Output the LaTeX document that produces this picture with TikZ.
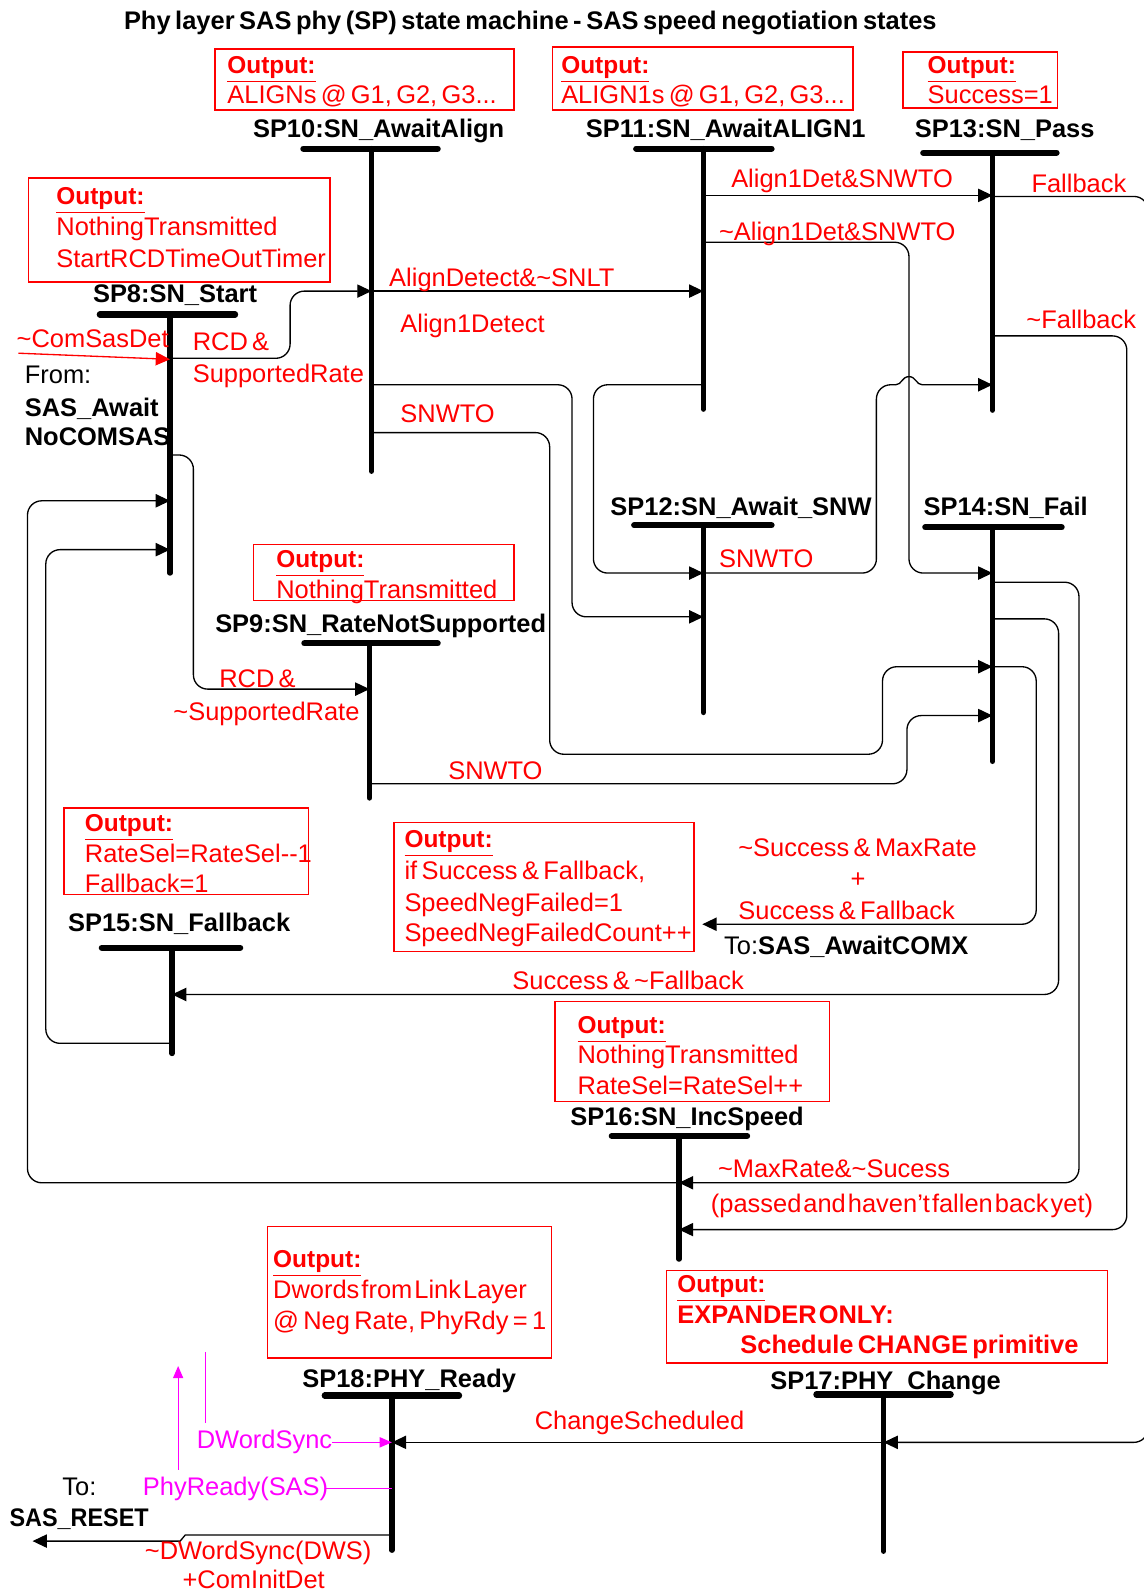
\documentclass[tikz,border=0pt]{standalone}
\usepackage{fontspec}
\setmainfont{Liberation Sans}
\usetikzlibrary{arrows.meta}
\definecolor{rd}{RGB}{255,0,0}
\definecolor{mg}{RGB}{255,0,255}
\newcommand{\lfs}{\fontsize{12.5}{14}\selectfont\spaceskip=0.17em plus 0.05em\relax}
\newcommand{\tightsp}{\spaceskip=0.08em plus 0.02em\relax}
\tikzset{
  conn/.style={draw=black, line width=0.65pt, rounded corners=7pt},
  arr/.style={-{Triangle[length=7pt,width=6.5pt]}},
  marr/.style={-{Triangle[length=6pt,width=5pt]}},
  mconn/.style={draw=mg, line width=0.6pt},
  txt/.style={font=\lfs, inner sep=0pt, anchor=west, text height=9pt, text depth=0pt},
  rtxt/.style={txt, text=rd},
  mtxt/.style={txt, text=mg},
  ktxt/.style={txt, text=black},
  kbtxt/.style={txt, text=black, font=\lfs\bfseries},
  rbtxt/.style={txt, text=rd, font=\lfs\bfseries},
  otxt/.style={txt, text=rd, font=\fontsize{12}{14}\selectfont\bfseries},
  stlabel/.style={font=\lfs\bfseries, inner sep=0pt, anchor=center, text height=9pt, text depth=0pt},
  obox/.style={draw=rd, line width=0.75pt},
  statebar/.style={line width=3pt, line cap=round},
  vline/.style={line width=2.6pt, line cap=round}
}
\begin{document}
\begin{tikzpicture}[x=0.5pt,y=-0.5pt]
\fill[white] (0,0) rectangle (1123,1566);
\useasboundingbox (0,0) rectangle (1123,1566);

% title
\node[stlabel] (title) at (521,20) {\spaceskip=0.18em\relax Phy layer SAS phy (SP) state machine - SAS speed negotiation states};

% ---------- output boxes ----------
\draw[obox] (211,48) rectangle (505,108);
\node[otxt] (o10a) at (223,63) {\underline{Output:}};
\node[rtxt] (o10b) at (223,93) {ALIGNs @ G1, G2, G3...};

\draw[obox] (543,46) rectangle (838,108);
\node[otxt] (o11a) at (551,63) {\underline{Output:}};
\node[rtxt] (o11b) at (551,93) {ALIGN1s @ G1, G2, G3...};

\draw[obox] (887,51) rectangle (1039,106);
\node[otxt] (o13a) at (911,63) {\underline{Output:}};
\node[rtxt] (o13b) at (911,93) {Success=1};

\draw[obox] (28,175) rectangle (324,277);
\node[otxt] (o8a) at (55,192) {\underline{Output:}};
\node[rtxt] (o8b) at (55,222) {NothingTransmitted};
\node[rtxt] (o8c) at (55,254) {StartRCDTimeOutTimer};

\draw[obox] (249,535) rectangle (505,590);
\node[otxt] (o9a) at (271,549) {\underline{Output:}};
\node[rtxt] (o9b) at (271,579) {NothingTransmitted};

\draw[obox] (63,794) rectangle (303,879);
\node[otxt] (o15a) at (83,808) {\underline{Output:}};
\node[rtxt] (o15b) at (83,838) {RateSel=RateSel-{}-1};
\node[rtxt] (o15c) at (83,868) {Fallback=1};

\draw[obox] (387,808) rectangle (682,935);
\node[otxt] (ofa) at (397,824) {\underline{Output:}};
\node[rtxt] (ofb) at (397,855) {if Success \& Fallback,};
\node[rtxt] (ofc) at (397,886) {SpeedNegFailed=1};
\node[rtxt] (ofd) at (397,916) {SpeedNegFailedCount++};

\draw[obox] (545,984) rectangle (815,1082);
\node[otxt] (o16a) at (567,1006) {\underline{Output:}};
\node[rtxt] (o16b) at (567,1036) {NothingTransmitted};
\node[rtxt] (o16c) at (567,1066) {RateSel=RateSel++};

\draw[obox] (263,1205) rectangle (542,1334);
\node[otxt] (o18a) at (268,1236) {\underline{Output:}};
\node[rtxt] (o18b) at (268,1267) {\tightsp Dwords from Link Layer};
\node[rtxt] (o18c) at (268,1297) {@ Neg Rate, PhyRdy = 1};

\draw[obox] (655,1248) rectangle (1088,1339);
\node[otxt] (o17a) at (665,1261) {\underline{Output:}};
\node[rbtxt] (o17b) at (665,1291) {\tightsp EXPANDER ONLY:};
\node[rbtxt] (o17c) at (727,1321) {Schedule CHANGE primitive};

% ---------- states ----------
\coordinate (s8) at (167,309);
\coordinate (s9) at (363,632);
\coordinate (s10) at (365,146);
\coordinate (s11) at (691,146);
\coordinate (s12) at (691,516);
\coordinate (s13) at (975,150);
\coordinate (s14) at (975,518);
\coordinate (s15) at (169,931);
\coordinate (s16) at (667,1116);
\coordinate (s17) at (868,1370);
\coordinate (s18) at (385,1371);

\draw[vline] (s8) -- (167,563);
\draw[vline] (s9) -- (363,784);
\draw[vline] (s10) -- (365,463);
\draw[vline] (s11) -- (691,402);
\draw[vline] (s12) -- (691,700);
\draw[vline] (s13) -- (975,403);
\draw[vline] (s14) -- (975,748);
\draw[vline] (s15) -- (169,1035);
\draw[vline] (s16) -- (667,1237);
\draw[vline] (s17) -- (868,1524);
\draw[vline] (s18) -- (385,1523);

\draw[statebar] (98,309) -- (231,309);
\draw[statebar] (299,632) -- (430,632);
\draw[statebar] (298,146) -- (430,146);
\draw[statebar] (625,146) -- (758,146);
\draw[statebar] (907,150) -- (1038,150);
\draw[statebar] (623,516) -- (758,516);
\draw[statebar] (909,518) -- (1043,518);
\draw[statebar] (100,931) -- (236,931);
\draw[statebar] (601,1116) -- (734,1116);
\draw[statebar] (802,1370) -- (934,1370);
\draw[statebar] (319,1371) -- (451,1371);

\node[stlabel] (n8) at (172,288) {SP8:SN\_Start};
\node[stlabel] (n9) at (374,612) {SP9:SN\_RateNotSupported};
\node[stlabel] (n10) at (372,126) {SP10:SN\_AwaitAlign};
\node[stlabel] (n11) at (713,126) {SP11:SN\_AwaitALIGN1};
\node[stlabel] (n13) at (987,126) {SP13:SN\_Pass};
\node[stlabel] (n12) at (728,497) {SP12:SN\_Await\_SNW};
\node[stlabel] (n14) at (988,497) {SP14:SN\_Fail};
\node[stlabel] (n15) at (176,906) {SP15:SN\_Fallback};
\node[stlabel] (n16) at (675,1097) {SP16:SN\_IncSpeed};
\node[stlabel] (n18) at (402,1354) {SP18:PHY\_Ready};
\node[stlabel] (n17) at (870,1356) {SP17:PHY\_Change};

% ---------- entry from SAS_AwaitNoCOMSAS ----------
\coordinate (frm) at (18,347);
\draw[conn, draw=rd, color=rd, arr] (frm) -- (s8 |- 0,353);
\node[rtxt] (lcom) at (16,332) {\textasciitilde ComSasDet};
\node[ktxt] (lfrom) at (24,368) {From:};
\node[kbtxt] (lsas1) at (24,400) {SAS\_Await};
\node[kbtxt] (lsas2) at (24,429) {NoCOMSAS};

% ---------- connectors ----------
% SP8 -> SP10
\draw[conn, arr] (s8 |- 0,352) -- (285,352) -- (285,286) -- (s10 |- 0,286);
\node[rtxt] (l1a) at (189,335) {RCD \&};
\node[rtxt] (l1b) at (189,367) {SupportedRate};
% SP10 -> SP11
\draw[conn, arr] (s10 |- 0,286) -- (s11 |- 0,286);
\node[rtxt] (l2) at (382,272) {AlignDetect\&\textasciitilde SNLT};
% SP10 -> SP12
\draw[conn, arr] (s10 |- 0,378) -- (562,378) -- (562,606) -- (s12 |- 0,606);
\node[rtxt] (l3) at (393,318) {Align1Detect};
% SP10 -> SP14
\draw[conn, arr] (s10 |- 0,425) -- (540,425) -- (540,741) -- (867,741) -- (867,655) -- (s14 |- 0,655);
\node[rtxt] (l4) at (393,406) {SNWTO};
% SP11 -> SP13
\draw[conn, arr] (s11 |- 0,192) -- (s13 |- 0,192);
\node[rtxt] (l5) at (718,175) {Align1Det\&SNWTO};
% SP11 -> SP14
\draw[conn, arr] (s11 |- 0,238) -- (893,238) -- (893,563) -- (s14 |- 0,563);
\node[rtxt] (l6) at (706,227) {\textasciitilde Align1Det\&SNWTO};
% SP11 -> SP12
\draw[conn, arr] (s11 |- 0,378) -- (583,378) -- (583,563) -- (s12 |- 0,563);
% SP12 -> SP13 (with bridge over the SP11->SP14 line)
\coordinate (hump) at (880,378);
\draw[conn] (s12 |- 0,563) -- (861,563) -- (861,378) -- (hump);
\draw[conn, sharp corners, arr] (hump) .. controls (886,378) and (886,370) .. (893,370)
  .. controls (900,370) and (900,378) .. (906,378) -- (s13 |- 0,378);
\node[rtxt] (l7) at (706,549) {SNWTO};
% SP13 Fallback -> SP17
\draw[conn, arr] (s13 |- 0,193) -- (1128,193) -- (1128,1417) -- (s17 |- 0,1417);
\node[rtxt] (l8) at (1013,180) {Fallback};
% SP13 ~Fallback -> SP16
\draw[conn, arr] (s13 |- 0,330) -- (1107,330) -- (1107,1208) -- (s16 |- 0,1208);
\node[rtxt] (l9) at (1008,314) {\textasciitilde Fallback};
\node[rtxt] (l9b) at (698,1182) {\tightsp (passed and haven't fallen back yet)};
% SP14 -> SP16
\draw[conn, arr] (s14 |- 0,572) -- (1060,572) -- (1060,1162) -- (s16 |- 0,1162);
\node[rtxt] (l10) at (705,1148) {\textasciitilde MaxRate\&\textasciitilde Sucess};
% SP16 -> SP8
\draw[conn, arr] (s16 |- 0,1162) -- (27,1162) -- (27,492) -- (s8 |- 0,492);
% SP14 -> SP15
\draw[conn, arr] (s14 |- 0,608) -- (1040,608) -- (1040,977) -- (s15 |- 0,977);
\node[rtxt] (l11) at (503,963) {Success \& \textasciitilde Fallback};
% SP14 -> SAS_AwaitCOMX
\coordinate (tocomx) at (690,908);
\draw[conn, arr] (s14 |- 0,655) -- (1018,655) -- (1018,908) -- (tocomx);
\node[rtxt] (l12a) at (725,832) {\textasciitilde Success \& MaxRate};
\node[rtxt, anchor=center] (l12b) at (843,863) {+};
\node[rtxt] (l12c) at (725,894) {Success \& Fallback};
\node[ktxt] (l12d) at (711,929) {To:\textbf{SAS\_AwaitCOMX}};
% SP15 -> SP8
\draw[conn, arr] (s15 |- 0,1025) -- (45,1025) -- (45,540) -- (s8 |- 0,540);
% SP8 -> SP9
\draw[conn, arr] (s8 |- 0,447) -- (190,447) -- (190,677) -- (s9 |- 0,677);
\node[rtxt] (l13a) at (215,666) {RCD \&};
\node[rtxt] (l13b) at (170,699) {\textasciitilde SupportedRate};
% SP9 -> SP14
\draw[conn, arr] (s9 |- 0,770) -- (891,770) -- (891,703) -- (s14 |- 0,703);
\node[rtxt] (l14) at (440,757) {SNWTO};
% SP17 -> SP18
\draw[conn, arr] (s17 |- 0,1417) -- (s18 |- 0,1417);
\node[rtxt] (l15) at (525,1395) {ChangeScheduled};
% DWordSync
\coordinate (dws) at (326,1417);
\draw[mconn, marr] (dws) -- (s18 |- 0,1417);
\node[mtxt] (l16) at (193,1414) {DWordSync};
% PhyReady
\coordinate (phr) at (320,1462);
\draw[mconn] (s18 |- 0,1462) -- (phr);
\node[mtxt] (l17) at (140,1460) {PhyReady(SAS)};
\coordinate (mv1a) at (202,1328);
\coordinate (mv1b) at (202,1398);
\draw[mconn] (mv1a) -- (mv1b);
\coordinate (mv2a) at (175,1444);
\coordinate (mv2b) at (175,1342);
\draw[mconn, marr] (mv2a) -- (mv2b);
% SP18 -> SAS_RESET
\coordinate (rst) at (32,1514);
\draw[conn, rounded corners=0pt, arr] (s18 |- 0,1508) -- (182,1508) -- (177,1514) -- (rst);
\node[ktxt] (l18a) at (61,1460) {To:};
\node[kbtxt] (l18b) at (9,1491) {\scalebox{0.92}[1]{SAS\_RESET}};
\node[rtxt] (l18c) at (142,1523) {\textasciitilde DWordSync(DWS)};
\node[rtxt] (l18d) at (179,1552) {+ComInitDet};
\end{tikzpicture}
\end{document}
